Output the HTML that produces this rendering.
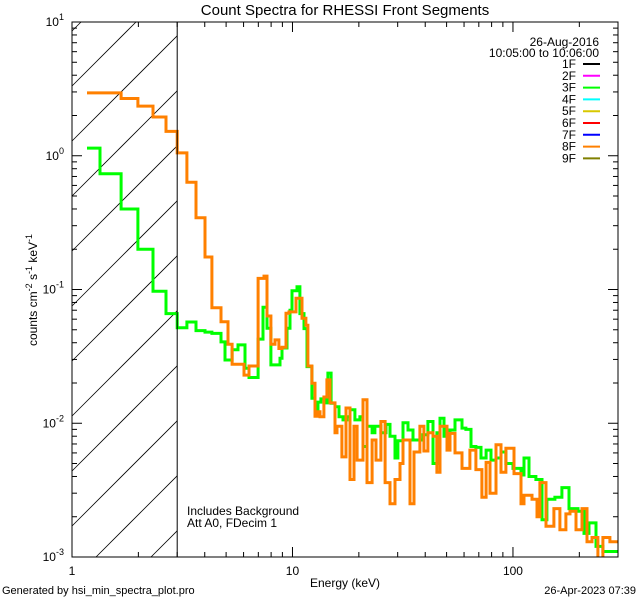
<!DOCTYPE html>
<html><head><meta charset="utf-8"><style>
html,body{margin:0;padding:0;background:#fff;width:640px;height:600px;overflow:hidden;}
svg{display:block;font-family:"Liberation Sans",sans-serif;}
</style></head><body>
<svg id="chart" width="640" height="600" viewBox="0 0 640 600" xmlns="http://www.w3.org/2000/svg">
<rect width="640" height="600" fill="#fff"/>
<defs><clipPath id="plotclip"><rect x="72" y="22" width="546" height="535"/></clipPath></defs>
<text x="345" y="15" font-size="15" text-anchor="middle">Count Spectra for RHESSI Front Segments</text>
<g id="hatch"></g>
<g id="series" clip-path="url(#plotclip)"></g>
<g id="axes"></g>
<text transform="translate(37,290) rotate(-90)" font-size="12" text-anchor="middle">counts cm<tspan baseline-shift="super" font-size="9">-2</tspan> s<tspan baseline-shift="super" font-size="9">-1</tspan> keV<tspan baseline-shift="super" font-size="9">-1</tspan></text>
<text x="345" y="587" font-size="12" text-anchor="middle">Energy (keV)</text>
<text x="2" y="594" font-size="11">Generated by hsi_min_spectra_plot.pro</text>
<text x="636" y="594" font-size="11" text-anchor="end">26-Apr-2023 07:39</text>
<text x="187" y="515" font-size="12">Includes Background</text>
<text x="187" y="527" font-size="12">Att A0, FDecim 1</text>
<text x="599" y="46" font-size="12" text-anchor="end">26-Aug-2016</text>
<text x="599" y="57" font-size="12" text-anchor="end">10:05:00 to 10:06:00</text>
<g id="legend"></g>
</svg>
<script>
const segNames=["1F","2F","3F","4F","5F","6F","7F","8F","9F"];
const segColors=["#000000","#ff00ff","#00ff00","#00ffff","#d8c800","#ff0000","#0000ff","#ff8000","#808000"];
const xTickLabels=["1","10","100"];
const yTickExp=[1,0,-1,-2,-3];
const greenEdges=[1.17,1.34,1.67,1.99,2.33,2.67,3.0,3.32,3.65,4.01,4.31,4.74,4.94,5.32,5.66,6.09,6.35,6.98,7.35,7.66,7.98,8.78,8.96,9.44,9.74,9.95,10.48,10.81,11.28,11.64,12.25,12.65,13.05,13.46,14.03,14.48,14.96,15.59,16.25,16.94,17.66,18.24,19.19,20.23,20.89,21.78,22.96,23.66,25.18,26.55,27.69,29.17,30.07,31.72,33.42,35.19,37.07,39.08,41.13,43.37,45.2,46.65,48.65,51.8,54.6,58.7,61.2,64.5,67.9,71.6,75.5,79.5,83.8,88.3,92.9,100,108.7,112.2,118.2,127.1,135.4,142.6,155.0,166.7,179.5,185.3,197.3,210.0,221.3,237.9,255.9,299.5];
const greenValues=[1.14,0.734,0.40,0.20,0.097,0.066,0.0518,0.0571,0.0493,0.048,0.047,0.0406,0.0297,0.0354,0.0385,0.0258,0.0220,0.0426,0.0737,0.0513,0.0273,0.0306,0.0365,0.0513,0.070,0.098,0.105,0.066,0.051,0.0265,0.0154,0.0122,0.0144,0.0152,0.0142,0.0237,0.0141,0.0133,0.0112,0.0106,0.0112,0.0126,0.0106,0.0112,0.0067,0.0095,0.0085,0.0095,0.0085,0.0098,0.0080,0.0055,0.0074,0.0101,0.0089,0.0075,0.0075,0.0082,0.0103,0.0050,0.0085,0.0109,0.0080,0.0089,0.0106,0.0092,0.0090,0.0067,0.0066,0.0055,0.0063,0.0053,0.0055,0.0061,0.0050,0.0046,0.0041,0.0055,0.0040,0.0038,0.0019,0.0027,0.0028,0.0033,0.0023,0.0023,0.0022,0.0015,0.0018,0.0012,0.0011];
const orangeEdges=[1.17,1.67,1.99,2.33,2.67,3.0,3.32,3.65,4.01,4.31,4.74,5.10,5.32,6.03,6.35,6.98,7.43,7.66,7.98,8.33,8.68,8.96,9.35,9.64,10.37,11.04,11.51,11.75,12.25,12.65,13.05,13.33,13.89,14.33,14.79,15.59,15.92,16.76,17.49,18.24,19.01,19.63,20.89,21.78,22.96,23.92,25.18,26.30,27.69,29.17,30.74,31.72,34.13,35.56,37.84,39.46,41.13,43.37,45.2,46.65,50.2,51.8,54.6,58.7,63.8,67.9,72.3,75.5,78.7,83.8,88.3,92.9,101.1,108.7,112.2,122.0,128.5,132.5,141.2,153.4,163.3,173.9,181.4,193.2,205.6,216.6,228.2,242.8,255.9,275.2,299.5];
const orangeValues=[2.95,2.68,2.35,1.95,1.52,1.05,0.633,0.344,0.175,0.073,0.0574,0.0389,0.0276,0.0229,0.0268,0.121,0.126,0.0634,0.039,0.042,0.0362,0.037,0.0664,0.068,0.086,0.061,0.054,0.0268,0.0199,0.0113,0.0122,0.0112,0.0157,0.0211,0.0142,0.0085,0.0095,0.0056,0.0130,0.0038,0.0095,0.0053,0.0150,0.0036,0.0075,0.0053,0.0103,0.0036,0.0025,0.0038,0.0050,0.0075,0.0025,0.0061,0.0095,0.0062,0.0085,0.0080,0.0043,0.0095,0.0063,0.0084,0.0060,0.0046,0.0063,0.0045,0.0028,0.0051,0.0030,0.0069,0.0043,0.0065,0.0042,0.0025,0.0029,0.0027,0.0020,0.0036,0.0017,0.0023,0.0016,0.0021,0.0022,0.0016,0.0023,0.0013,0.0014,0.00098,0.0014,0.0013];

const NS="http://www.w3.org/2000/svg";
const X0=72,X1=618,Y0=22,Y1=557,XMIN=1,XMAX=299.5,YMAX=10,YMIN=0.001;
function xs(e){return X0+(Math.log10(e)-Math.log10(XMIN))/(Math.log10(XMAX)-Math.log10(XMIN))*(X1-X0);}
function ys(v){return Y0+(Math.log10(YMAX)-Math.log10(v))/(Math.log10(YMAX)-Math.log10(YMIN))*(Y1-Y0);}
function mk(tag,attrs,parent){const el=document.createElementNS(NS,tag);for(const k in attrs)el.setAttribute(k,attrs[k]);parent.appendChild(el);return el;}

// hatch: lines y = b - (x - 72), clipped manually to region [72, xh] x [22, 557]
const hatch=document.getElementById('hatch');
const xh=xs(3);
for(let k=-3;k<12;k++){
  const b=86+55*k;
  let xa=72, ya=b;
  if(ya>Y1){xa=72+(ya-Y1);ya=Y1;}
  let xb=xh, yb=b-(xh-72);
  if(yb<Y0){xb=72+(b-Y0);yb=Y0;}
  if(xa>=xb) continue;
  const ln=mk('line',{x1:xa.toFixed(1),y1:ya.toFixed(1),x2:xb.toFixed(1),y2:yb.toFixed(1),stroke:'#000','stroke-width':0.8},hatch);
  
  
}
const series=document.getElementById('series');
function stepPath(edges,vals){
  let d='';
  for(let i=0;i<vals.length;i++){
    const xa=xs(edges[i]),xb=xs(edges[i+1]),y=Math.min(ys(vals[i]),Y1+1);
    d+=(i===0?'M':'L')+xa.toFixed(1)+','+y.toFixed(1)+'L'+xb.toFixed(1)+','+y.toFixed(1);
  }
  return d;
}
const gp=mk('path',{d:stepPath(greenEdges,greenValues),fill:'none',stroke:'#00ff00','stroke-width':3},series);


const op=mk('path',{d:stepPath(orangeEdges,orangeValues),fill:'none',stroke:'#ff8000','stroke-width':3},series);



// axes
const axes=document.getElementById('axes');
const fr=mk('rect',{x:X0,y:Y0,width:X1-X0,height:Y1-Y0,fill:'none',stroke:'#000','stroke-width':1},axes);


mk('line',{x1:xh,y1:Y0,x2:xh,y2:Y1,stroke:'#000','stroke-width':1},axes);
for(let dec=0;dec<3;dec++){
  for(let m=1;m<10;m++){
    const e=Math.pow(10,dec)*m; if(e>XMAX) break;
    const x=xs(e); const L=(m===1)?10:5;
    mk('line',{x1:x,y1:Y1,x2:x,y2:Y1-L,stroke:'#000'},axes);
    mk('line',{x1:x,y1:Y0,x2:x,y2:Y0+L,stroke:'#000'},axes);
  }
}
xTickLabels.forEach(function(s){
  const t=mk('text',{x:xs(parseFloat(s)),y:575,'font-size':12,'text-anchor':'middle'},axes);
  t.textContent=s;
  
  
});
for(let ex=-3;ex<1;ex++){
  for(let m=1;m<10;m++){
    const v=Math.pow(10,ex)*m; const y=ys(v); const L=(m===1)?10:5;
    mk('line',{x1:X0,y1:y,x2:X0+L,y2:y,stroke:'#000'},axes);
    mk('line',{x1:X1,y1:y,x2:X1-L,y2:y,stroke:'#000'},axes);
  }
}
mk('line',{x1:X0,y1:ys(10),x2:X0+10,y2:ys(10),stroke:'#000'},axes);
mk('line',{x1:X1,y1:ys(10),x2:X1-10,y2:ys(10),stroke:'#000'},axes);
yTickExp.forEach(function(ex){
  const t=mk('text',{x:64,y:ys(Math.pow(10,ex))+4,'font-size':12,'text-anchor':'end'},axes);
  t.innerHTML='10<tspan dy="-6" font-size="9">'+ex+'</tspan>';
  
  
});
// legend
const lg=document.getElementById('legend');
segNames.forEach(function(n,i){
  const y=64+i*11.8;
  const t=mk('text',{x:576,y:y+4,'font-size':12,'text-anchor':'end'},lg);
  t.textContent=n;
  
  
  const l=mk('line',{x1:583,y1:y,x2:600,y2:y,stroke:segColors[i],'stroke-width':2},lg);
  
  
});
</script>
</body></html>
